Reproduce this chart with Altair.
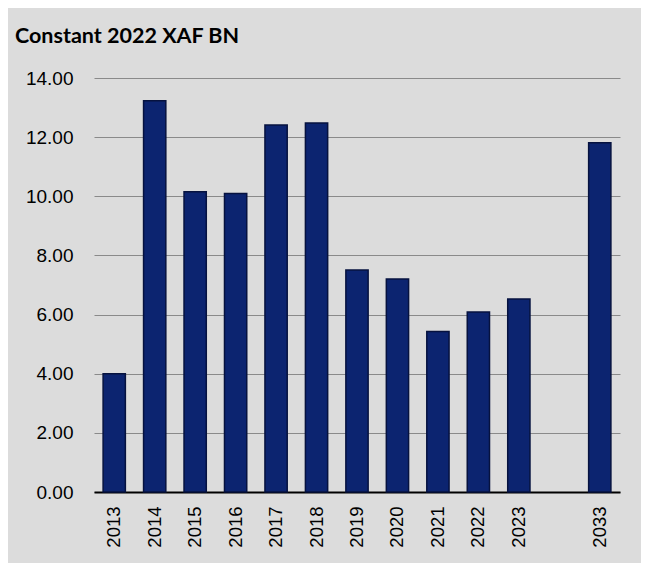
import altair as alt
import pandas as pd

years = ["2013", "2014", "2015", "2016", "2017", "2018", "2019", "2020",
         "2021", "2022", "2023", "2033"]
values = [4.00, 13.23, 10.15, 10.09, 12.41, 12.48, 7.51, 7.20, 5.43, 6.09, 6.53, 11.81]
x_domain = years[:11] + [" "] + years[11:]
y_ticks = [0, 2, 4, 6, 8, 10, 12, 14]

df = pd.DataFrame({"year": years, "value": values})

chart = alt.Chart(df).mark_bar(
    color="#0c2470", stroke="#06123f", strokeWidth=1.5
).encode(
    x=alt.X("year:N", sort=x_domain,
            scale=alt.Scale(domain=x_domain, paddingInner=0.45, paddingOuter=0.225),
            axis=alt.Axis(title=None, labelAngle=-90, labelFont="Liberation Sans",
                          labelFontSize=18.5, labelColor="black", ticks=False,
                          labelPadding=14, domainColor="black", domainWidth=2,
                          labelExpr="datum.value == ' ' ? '' : datum.value",
                          minExtent=60, maxExtent=60, labelBaseline="middle")),
    y=alt.Y("value:Q", scale=alt.Scale(domain=[0, 14]),
            axis=alt.Axis(title=None, values=y_ticks, format=".2f", ticks=False,
                          domain=False, labelFont="Liberation Sans", labelFontSize=19,
                          labelColor="black", labelPadding=21, gridColor="#8a8a8a",
                          gridWidth=1, minExtent=78, maxExtent=78)),
).properties(
    width=526, height=414,
    title=alt.Title("Constant 2022 XAF BN", anchor="start", frame="bounds",
                    font="Lato", fontSize=21.5, fontWeight="bold", color="black",
                    offset=22, dx=-1),
    background="#dcdcdc",
    padding={"left": 7, "top": 17, "right": 21, "bottom": 11},
).configure_view(stroke=None)

chart.save("out.html", embed_options={"renderer": "svg", "actions": False})
